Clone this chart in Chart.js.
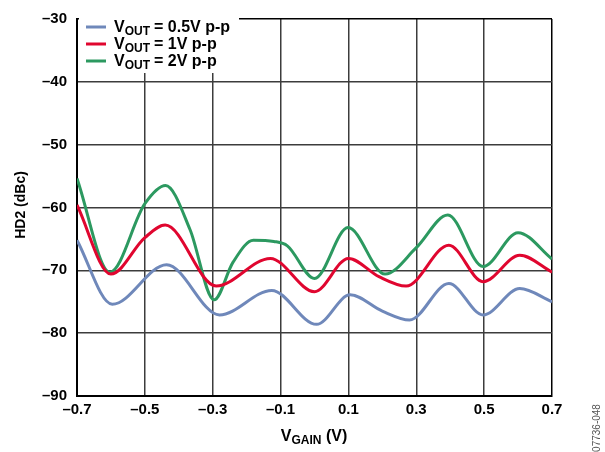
<!DOCTYPE html>
<html>
<head>
<meta charset="utf-8">
<script src="https://cdn.jsdelivr.net/npm/chart.js@4.4.0/dist/chart.umd.min.js"></script>
<style>
  html, body { margin: 0; padding: 0; background: #fff; }
  #wrap { width: 605px; height: 452px; }
</style>
</head>
<body>
<div id="wrap"><canvas id="hd2Chart" width="605" height="452"></canvas></div>
<script>
// series names (label text after the V_OUT part)
const seriesNames = ['= 0.5V p-p', '= 1V p-p', '= 2V p-p'];
const seriesColors = ['#6f88ba', '#e0062f', '#2c9960'];

// x ticks (V) and y ticks (dBc)
const vGainTicks = [-0.7, -0.5, -0.3, -0.1, 0.1, 0.3, 0.5, 0.7];
const hd2Ticks = [-90, -80, -70, -60, -50, -40, -30];

// VOUT = 0.5V p-p
const blueV   = [-0.7, -0.596, -0.436, -0.28, -0.126, 0.006, 0.105, 0.2, 0.28, 0.396, 0.497, 0.605, 0.7];
const blueHD2 = [-65.2, -75.4, -69.1, -77.1, -73.2, -78.6, -73.9, -76.5, -77.9, -72.1, -77.1, -72.9, -75.0];

// VOUT = 1V p-p
const redV   = [-0.7, -0.6, -0.5, -0.44, -0.29, -0.13, 0.0, 0.1, 0.19, 0.27, 0.396, 0.497, 0.605, 0.7];
const redHD2 = [-59.6, -70.6, -64.8, -62.8, -72.5, -68.1, -73.4, -68.1, -71.0, -72.5, -66.0, -71.8, -67.6, -70.3];

// VOUT = 2V p-p
const greenV   = [-0.7, -0.603, -0.5, -0.439, -0.367, -0.296, -0.24, -0.18, -0.12, -0.08, 0.0, 0.099, 0.208, 0.3, 0.393, 0.497, 0.6, 0.7];
const greenHD2 = [-55.4, -70.3, -59.4, -56.5, -63.5, -74.7, -68.7, -65.2, -65.4, -66.1, -71.3, -63.2, -70.6, -66.4, -61.2, -69.4, -64.0, -68.2];

const xs = [blueV, redV, greenV];
const ys = [blueHD2, redHD2, greenHD2];

const dash = v => String(v).replace('-', '\u2013');

// legend, axis titles with subscripts, and figure id
const annotations = {
  id: 'annotations',
  afterDraw(chart) {
    const ctx = chart.ctx;
    ctx.save();

    // legend box
    ctx.fillStyle = '#fff';
    ctx.fillRect(79, 15, 160, 58);
    seriesNames.forEach((name, i) => {
      const y = 27 + i * 17;
      ctx.strokeStyle = seriesColors[i];
      ctx.lineWidth = 3;
      ctx.beginPath();
      ctx.moveTo(86, y);
      ctx.lineTo(106, y);
      ctx.stroke();
      ctx.fillStyle = '#000';
      ctx.textBaseline = 'middle';
      ctx.textAlign = 'left';
      let x = 114;
      ctx.font = 'bold 16px "Liberation Sans", Arial, sans-serif';
      ctx.fillText('V', x, y + 1);
      x += ctx.measureText('V').width;
      ctx.font = 'bold 12px "Liberation Sans", Arial, sans-serif';
      ctx.fillText('OUT', x, y + 5);
      x += ctx.measureText('OUT').width + 4;
      ctx.font = 'bold 16px "Liberation Sans", Arial, sans-serif';
      ctx.fillText(name, x, y + 1);
    });

    // y axis title
    ctx.save();
    ctx.translate(21, 205);
    ctx.rotate(-Math.PI / 2);
    ctx.font = 'bold 14px "Liberation Sans", Arial, sans-serif';
    ctx.textAlign = 'center';
    ctx.textBaseline = 'middle';
    ctx.fillStyle = '#000';
    ctx.fillText('HD2 (dBc)', 0, 0);
    ctx.restore();

    // x axis title
    const big = 'bold 16px "Liberation Sans", Arial, sans-serif';
    const sub = 'bold 12px "Liberation Sans", Arial, sans-serif';
    ctx.font = big;
    const wV = ctx.measureText('V').width;
    const wRest = ctx.measureText(' (V)').width;
    ctx.font = sub;
    const wSub = ctx.measureText('GAIN').width;
    let x0 = 314 - (wV + wSub + wRest) / 2;
    const yT = 437;
    ctx.fillStyle = '#000';
    ctx.textAlign = 'left';
    ctx.textBaseline = 'middle';
    ctx.font = big;
    ctx.fillText('V', x0, yT);
    ctx.font = sub;
    ctx.fillText('GAIN', x0 + wV, yT + 4);
    ctx.font = big;
    ctx.fillText(' (V)', x0 + wV + wSub, yT);

    // figure id
    ctx.save();
    ctx.translate(597, 428);
    ctx.rotate(-Math.PI / 2);
    ctx.font = '10px "Liberation Sans", Arial, sans-serif';
    ctx.fillStyle = '#555';
    ctx.textAlign = 'center';
    ctx.textBaseline = 'middle';
    ctx.fillText('07736-048', 0, 0);
    ctx.restore();

    ctx.restore();
  }
};

const ctx = document.getElementById('hd2Chart').getContext('2d');
new Chart(ctx, {
  type: 'line',
  data: {
    datasets: seriesNames.map((name, i) => ({
      label: 'VOUT ' + name,
      data: xs[i].map((v, j) => ({ x: v, y: ys[i][j] })),
      borderColor: seriesColors[i],
      borderWidth: 3,
      pointRadius: 0,
      fill: false,
      cubicInterpolationMode: 'monotone'
    }))
  },
  options: {
    responsive: false,
    animation: false,
    layout: { padding: { top: 13, right: 53, left: 0, bottom: 0 } },
    plugins: { legend: { display: false }, tooltip: { enabled: false } },
    scales: {
      x: {
        type: 'linear',
        min: -0.7,
        max: 0.7,
        afterBuildTicks: s => { s.ticks = vGainTicks.map(v => ({ value: v })); },
        afterFit: s => { s.height = 56; },
        ticks: {
          padding: 5,
          color: '#000',
          font: { family: '"Liberation Sans", Arial, sans-serif', size: 15, weight: 'bold' },
          callback: v => dash(v.toFixed(1))
        },
        grid: {
          drawTicks: false,
          color: c => (c.tick && c.tick.value === 0.7) ? '#000' : '#3c3c3c',
          lineWidth: 1.5
        },
        border: { color: '#000', width: 2 }
      },
      y: {
        min: -90,
        max: -30,
        afterBuildTicks: s => { s.ticks = hd2Ticks.map(v => ({ value: v })); },
        afterFit: s => { s.width = 77; },
        ticks: {
          padding: 10,
          color: '#000',
          font: { family: '"Liberation Sans", Arial, sans-serif', size: 15, weight: 'bold' },
          callback: v => dash(v)
        },
        grid: {
          drawTicks: false,
          color: c => (c.tick && c.tick.value === -30) ? '#000' : '#3c3c3c',
          lineWidth: 1.5
        },
        border: { color: '#000', width: 2 }
      }
    }
  },
  plugins: [annotations]
});
</script>
</body>
</html>
